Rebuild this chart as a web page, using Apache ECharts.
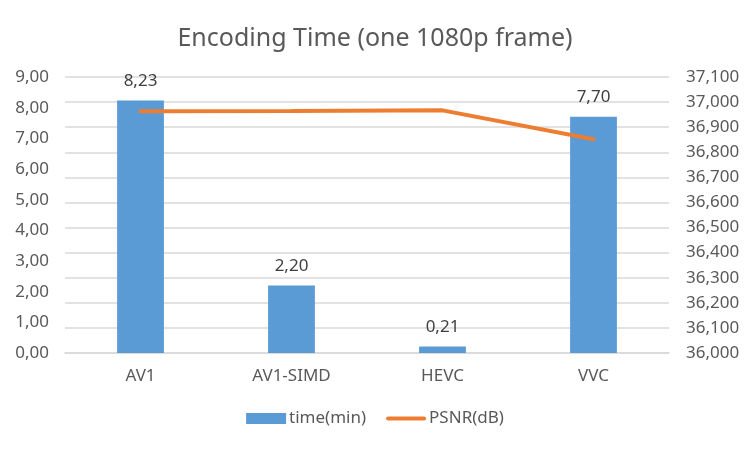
<!DOCTYPE html>
<html>
<head>
<meta charset="utf-8">
<script src="https://cdn.jsdelivr.net/npm/echarts@6/dist/echarts.min.js"></script>
<style>html,body{margin:0;padding:0;background:#fff}#c{width:750px;height:449px}</style>
</head>
<body>
<div id="c"></div>
<script>
const categories = ['AV1', 'AV1-SIMD', 'HEVC', 'VVC'];
const timeMin = [8.23, 2.20, 0.21, 7.70];
const psnrDb = [36963, 36964, 36967, 36852];
const leftTicks = [0, 9, 1];       // min, max, interval
const rightTicks = [36000, 37100, 100];

const FONT = 'Noto Sans';
const dec = v => v.toFixed(2).replace('.', ',');
const thou = v => String(Math.round(v)).replace(/\B(?=(\d{3})+(?!\d))/g, ',');

const chart = echarts.init(document.getElementById('c'));
chart.setOption({
  animation: false,
  backgroundColor: '#fff',
  title: {
    text: 'Encoding Time (one 1080p frame)',
    left: 'center', top: 21,
    textStyle: { fontFamily: FONT, fontSize: 25, fontWeight: 'normal', color: '#595959' }
  },
  legend: {
    bottom: 17, left: 'center', itemGap: 20, itemWidth: 40, itemHeight: 11,
    textStyle: { fontFamily: FONT, fontSize: 17, color: '#595959', padding: [0, 0, 0, -2] },
    data: [
      { name: 'time(min)', icon: 'rect' },
      { name: 'PSNR(dB)', icon: 'path://M2,4 L38,4 A2,2 0 0 1 38,8 L2,8 A2,2 0 0 1 2,4 Z' }
    ]
  },
  grid: { left: 65, right: 81, top: 77, bottom: 96 },
  xAxis: {
    type: 'category', data: categories,
    axisLine: { lineStyle: { color: '#D9D9D9', width: 1.5 } },
    axisTick: { show: false },
    axisLabel: { fontFamily: FONT, fontSize: 17, color: '#595959', margin: 15 }
  },
  yAxis: [
    {
      type: 'value', min: leftTicks[0], max: leftTicks[1], interval: leftTicks[2],
      splitLine: { show: false }, axisLine: { show: false }, axisTick: { show: false },
      axisLabel: { fontFamily: FONT, fontSize: 17, color: '#595959', margin: 16, formatter: dec }
    },
    {
      type: 'value', min: rightTicks[0], max: rightTicks[1], interval: rightTicks[2],
      splitLine: { show: true, lineStyle: { color: '#D9D9D9', width: 1.5 } },
      axisLine: { show: false }, axisTick: { show: false },
      axisLabel: { fontFamily: FONT, fontSize: 17, color: '#595959', margin: 17, formatter: thou }
    }
  ],
  series: [
    {
      name: 'time(min)', type: 'bar', yAxisIndex: 0, data: timeMin, barWidth: '31%',
      itemStyle: { color: '#5B9BD5' },
      label: { show: true, position: 'top', distance: 11, fontFamily: FONT, fontSize: 17, color: '#404040', formatter: p => dec(p.value) }
    },
    {
      name: 'PSNR(dB)', type: 'line', yAxisIndex: 1, data: psnrDb,
      symbol: 'none', lineStyle: { color: '#ED7D31', width: 4, cap: 'round' },
      itemStyle: { color: '#ED7D31' }
    }
  ]
});
</script>
</body>
</html>
